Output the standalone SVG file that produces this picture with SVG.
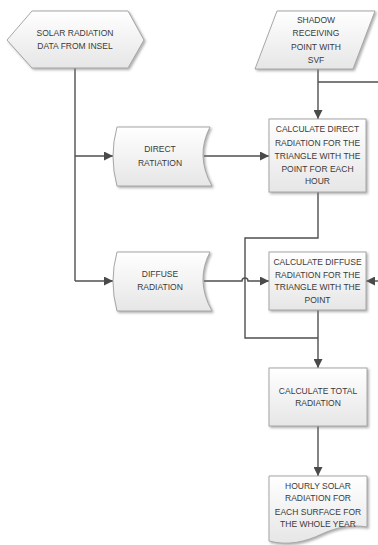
<svg xmlns="http://www.w3.org/2000/svg" width="378" height="545" viewBox="0 0 378 545">
<defs>
<linearGradient id="g" x1="0" y1="0" x2="0" y2="1">
<stop offset="0" stop-color="#ffffff"/>
<stop offset="1" stop-color="#e6e6e6"/>
</linearGradient>
<filter id="sh" x="-10%" y="-10%" width="130%" height="130%">
<feDropShadow dx="1.5" dy="1.5" stdDeviation="1" flood-color="#7a7a7a" flood-opacity="0.6"/>
</filter>
<marker id="ah" viewBox="0 0 10 10" refX="10" refY="5" markerWidth="9" markerHeight="9" markerUnits="userSpaceOnUse" orient="auto">
<path d="M0,0 L10,5 L0,10 Z" fill="#4a4a4a"/>
</marker>
<style>
.s{fill:url(#g);stroke:#a6a6a6;stroke-width:1;filter:url(#sh)}
.t{font-family:"Liberation Sans",Arial,sans-serif;font-size:8.5px;fill:#3a3a3a;text-anchor:middle}
.c{fill:none;stroke:#4f4f4f;stroke-width:1.4}
</style>
</defs>
<rect width="378" height="545" fill="#ffffff"/>
<g id="connectors">
<path class="c" d="M75,68 V281"/>
<path class="c" d="M75,156 H113" marker-end="url(#ah)"/>
<path class="c" d="M75,281 H113" marker-end="url(#ah)"/>
<path class="c" d="M204,156 H269" marker-end="url(#ah)"/>
<path class="c" d="M204,281 H242 A3,3 0 0 1 248,281 H269" marker-end="url(#ah)"/>
<path class="c" d="M318,69 V119" marker-end="url(#ah)"/>
<path class="c" d="M318,82 H378"/>
<path class="c" d="M378,281 H366" marker-end="url(#ah)"/>
<path class="c" d="M318,192 V238 H245 V338 H318"/>
<path class="c" d="M318,310 V368" marker-end="url(#ah)"/>
<path class="c" d="M318,426 V476" marker-end="url(#ah)"/>
</g>
<g id="solar">
<polygon class="s" points="7,40 32,11 128,11 144,40 128,68 32,68"/>
<text class="t" x="75" y="36">SOLAR RADIATION</text>
<text class="t" x="75" y="49">DATA FROM INSEL</text>
</g>
<g id="shadow">
<polygon class="s" points="277,11 375,11 353,69 255,69"/>
<text class="t" x="316" y="23">SHADOW</text>
<text class="t" x="316" y="36">RECEIVING</text>
<text class="t" x="316" y="50">POINT WITH</text>
<text class="t" x="316" y="63">SVF</text>
</g>
<g id="direct">
<path class="s" d="M117,127 H210 Q195,156 212,186 H117 Q109,156 117,127 Z"/>
<text class="t" x="160" y="152">DIRECT</text>
<text class="t" x="160" y="166">RATIATION</text>
</g>
<g id="calcdirect">
<rect class="s" x="269" y="119" width="97" height="73"/>
<text class="t" x="317.5" y="132">CALCULATE DIRECT</text>
<text class="t" x="317.5" y="146">RADIATION FOR THE</text>
<text class="t" x="317.5" y="159">TRIANGLE WITH THE</text>
<text class="t" x="317.5" y="172">POINT FOR EACH</text>
<text class="t" x="317.5" y="184">HOUR</text>
</g>
<g id="diffuse">
<path class="s" d="M117,252 H210 Q195,281 212,311 H117 Q109,281 117,252 Z"/>
<text class="t" x="160" y="277">DIFFUSE</text>
<text class="t" x="160" y="290">RADIATION</text>
</g>
<g id="calcdiffuse">
<rect class="s" x="269" y="252" width="97" height="58"/>
<text class="t" x="317.5" y="265">CALCULATE DIFFUSE</text>
<text class="t" x="317.5" y="278">RADIATION FOR THE</text>
<text class="t" x="317.5" y="290">TRIANGLE WITH THE</text>
<text class="t" x="317.5" y="303">POINT</text>
</g>
<g id="total">
<rect class="s" x="269" y="368" width="98" height="58"/>
<text class="t" x="318" y="394">CALCULATE TOTAL</text>
<text class="t" x="318" y="406">RADIATION</text>
</g>
<g id="hourly">
<path class="s" d="M269,476 H367 V527 C350,524 335,528 322,534 C305,542 288,546 269,541 Z"/>
<text class="t" x="318" y="489">HOURLY SOLAR</text>
<text class="t" x="318" y="501">RADIATION FOR</text>
<text class="t" x="318" y="515">EACH SURFACE FOR</text>
<text class="t" x="318" y="527">THE WHOLE YEAR</text>
</g>
</svg>
